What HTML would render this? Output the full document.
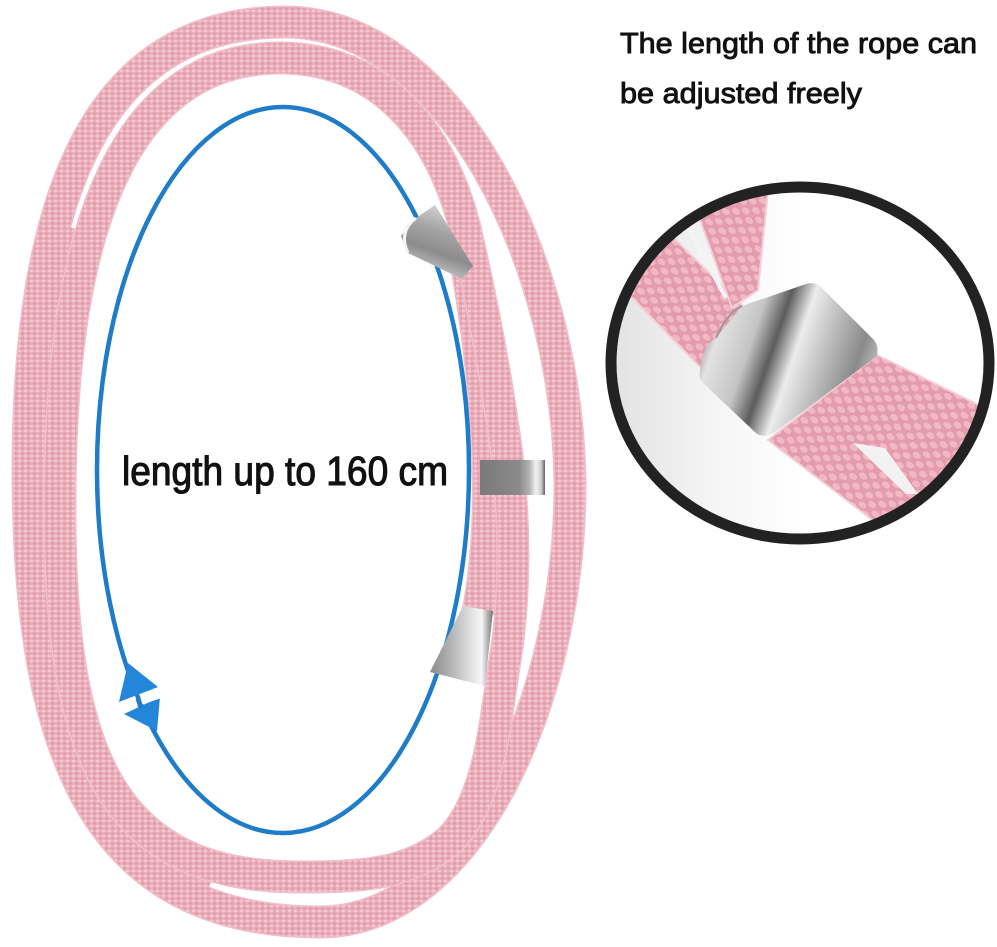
<!DOCTYPE html>
<html>
<head>
<meta charset="utf-8">
<style>
  html,body{margin:0;padding:0;background:#fff;}
  svg{display:block;}
</style>
</head>
<body>
<svg width="997" height="947" viewBox="0 0 997 947" xmlns="http://www.w3.org/2000/svg">
  <defs>
    <pattern id="weave" width="6" height="5" patternUnits="userSpaceOnUse">
      <rect width="6" height="5" fill="#ebafbc"/>
      <rect x="0" y="0" width="3" height="2" fill="#f5c9d3"/>
      <rect x="3" y="2.5" width="3" height="2" fill="#dc9aaa"/>
    </pattern>
    <pattern id="scales" width="16" height="12" patternUnits="userSpaceOnUse" patternTransform="rotate(35)">
      <rect width="16" height="12" fill="#e29cad"/>
      <ellipse cx="4" cy="3" rx="4.5" ry="3" fill="#f2b8c5"/>
      <ellipse cx="12" cy="9" rx="4.5" ry="3" fill="#f2b8c5"/>
    </pattern>
    <linearGradient id="insetbg" x1="610" y1="0" x2="800" y2="0" gradientUnits="userSpaceOnUse">
      <stop offset="0" stop-color="#e2e2e2"/>
      <stop offset="0.6" stop-color="#f6f6f6"/>
      <stop offset="1" stop-color="#ffffff"/>
    </linearGradient>
    <linearGradient id="cylG" x1="700" y1="330" x2="877" y2="390" gradientUnits="userSpaceOnUse">
      <stop offset="0" stop-color="#8e8e8e"/>
      <stop offset="0.1" stop-color="#e2e2e2"/>
      <stop offset="0.28" stop-color="#c4c4c4"/>
      <stop offset="0.4" stop-color="#5c5c5c"/>
      <stop offset="0.52" stop-color="#ececec"/>
      <stop offset="0.68" stop-color="#bcbcbc"/>
      <stop offset="0.85" stop-color="#8a8a8a"/>
      <stop offset="1" stop-color="#cfcfcf"/>
    </linearGradient>
    <linearGradient id="coneTop" x1="445" y1="210" x2="425" y2="268" gradientUnits="userSpaceOnUse">
      <stop offset="0" stop-color="#cfcfcf"/>
      <stop offset="0.35" stop-color="#a4a4a4"/>
      <stop offset="0.7" stop-color="#8c8c8c"/>
      <stop offset="1" stop-color="#bdbdbd"/>
    </linearGradient>
    <linearGradient id="coneBot" x1="430" y1="0" x2="493" y2="0" gradientUnits="userSpaceOnUse">
      <stop offset="0" stop-color="#8a8a8a"/>
      <stop offset="0.35" stop-color="#b6b6b6"/>
      <stop offset="0.6" stop-color="#dadada"/>
      <stop offset="0.82" stop-color="#f6f6f6"/>
      <stop offset="1" stop-color="#747474"/>
    </linearGradient>
    <linearGradient id="barG" x1="480" y1="0" x2="545" y2="0" gradientUnits="userSpaceOnUse">
      <stop offset="0" stop-color="#7a7a7a"/>
      <stop offset="0.6" stop-color="#8a8a8a"/>
      <stop offset="0.76" stop-color="#b2b2b2"/>
      <stop offset="0.86" stop-color="#f2f2f2"/>
      <stop offset="0.94" stop-color="#cfcfcf"/>
      <stop offset="1" stop-color="#626262"/>
    </linearGradient>
    <clipPath id="cc"><ellipse cx="800" cy="363" rx="189" ry="176"/></clipPath>
  </defs>

  <rect width="997" height="947" fill="#ffffff"/>

  <!-- Rope A (outer loop) -->
  <path d="M 285,22 C 450,22 566,260 570,480 C 571,700 470,922 320,922 C 100,922 28,760 28,470 C 28,200 95,22 285,22 Z"
        fill="none" stroke="#efc0cb" stroke-width="33"/>
  <path d="M 285,22 C 450,22 566,260 570,480 C 571,700 470,922 320,922 C 100,922 28,760 28,470 C 28,200 95,22 285,22 Z"
        fill="none" stroke="url(#weave)" stroke-width="30"/>

  <!-- filler between A and B on the left side (ropes touch there) -->
  <path d="M 310,900 C 110,900 43,765 44,485 C 44,225 105,40 282,40" pathLength="200"
        fill="none" stroke="url(#weave)" stroke-width="14" stroke-dasharray="0 18 128 300"/>

  <!-- Rope D (strand from bottom cone up) -->
  <path d="M 478,612 C 492,540 495,430 466,262" fill="none" stroke="#efc0cb" stroke-width="33"/>
  <path d="M 478,612 C 492,540 495,430 466,262" fill="none" stroke="url(#weave)" stroke-width="30"/>

  <!-- Rope B (inner loop) -->
  <path d="M 280,58 C 380,58 440,130 465,228 C 478,285 492,350 505,440 C 516,520 515,600 505,660 C 495,720 490,800 450,840 C 410,875 360,877 300,877 C 120,877 58,770 60,500 C 60,250 115,58 280,58 Z"
        fill="none" stroke="#efc0cb" stroke-width="33"/>
  <path d="M 280,58 C 380,58 440,130 465,228 C 478,285 492,350 505,440 C 516,520 515,600 505,660 C 495,720 490,800 450,840 C 410,875 360,877 300,877 C 120,877 58,770 60,500 C 60,250 115,58 280,58 Z"
        fill="none" stroke="url(#weave)" stroke-width="30"/>

  <!-- Blue measurement ellipse -->
  <ellipse cx="283" cy="470" rx="186" ry="363" fill="none" stroke="#1f7cc8" stroke-width="4.5"/>
  <!-- arrowheads -->
  <polygon points="128,663 119,702 158,687" fill="#2386d8"/>
  <polygon points="124,714 160,697 157,731" fill="#2386d8"/>
  <line x1="112" y1="711" x2="168" y2="692" stroke="#ffffff" stroke-width="7"/>
  <rect x="137" y="698" width="5" height="10" fill="#1f7cc8" transform="rotate(-18 139.5 703)"/>

  <!-- Top cone -->
  <polygon points="435,205 473,266 462,279 408,253 401,236 416,218" fill="url(#coneTop)"/>
  <path d="M 416,218 Q 398,232 408,253" fill="none" stroke="#f4f4f4" stroke-width="3"/>

  <!-- Bottom cone -->
  <polygon points="463,606 493,611 485,686 430,672" fill="url(#coneBot)"/>

  <!-- Bar -->
  <rect x="480" y="460" width="65" height="35" fill="url(#barG)"/>

  <!-- Text -->
  <text x="122" y="485" font-family="Liberation Sans, sans-serif" font-size="41" fill="#111" stroke="#111" stroke-width="1.1" textLength="326" lengthAdjust="spacingAndGlyphs">length up to 160 cm</text>
  <text x="620" y="53" font-family="Liberation Sans, sans-serif" font-size="29" fill="#111" stroke="#111" stroke-width="0.9" textLength="357" lengthAdjust="spacingAndGlyphs">The length of the rope can</text>
  <text x="620" y="103" font-family="Liberation Sans, sans-serif" font-size="29" fill="#111" stroke="#111" stroke-width="0.9" textLength="242" lengthAdjust="spacingAndGlyphs">be adjusted freely</text>

  <!-- Inset circle -->
  <ellipse cx="800" cy="363" rx="189" ry="176" fill="url(#insetbg)"/>
  <g clip-path="url(#cc)">
    <!-- band 1 (left upper) -->
    <polygon points="628,193 745,308 705,372 583,248" fill="url(#scales)" stroke="#f3d0d8" stroke-width="2"/>
    <!-- band 2 (upper) -->
    <polygon points="680,165 772,150 758,290 732,308" fill="url(#scales)" stroke="#f3d0d8" stroke-width="2"/>
    <line x1="676" y1="205" x2="726" y2="298" stroke="#f4f4f4" stroke-width="4"/>
    <!-- band 3 (lower right) -->
    <polygon points="768,440 877,355 1005,418 1005,480 905,545" fill="url(#scales)" stroke="#f3d0d8" stroke-width="2"/>
    <polygon points="853,443 885,448 918,494 906,494" fill="#f2f2f2"/>
    <!-- metal cylinder -->
    <path d="M 742,306 L 806,284 Q 815,281 822,288 L 874,340 Q 879,346 877,356 L 778,430 Q 766,439 757,434 L 704,384 Q 698,378 700,370 L 703,355 Q 706,344 716,338 Z" fill="url(#cylG)"/>
    <path d="M 742,306 Q 728,312 716,338" fill="none" stroke="#9a9a9a" stroke-width="2"/>
  </g>
  <ellipse cx="800" cy="363" rx="189" ry="176" fill="none" stroke="#222222" stroke-width="11"/>
</svg>
</body>
</html>
